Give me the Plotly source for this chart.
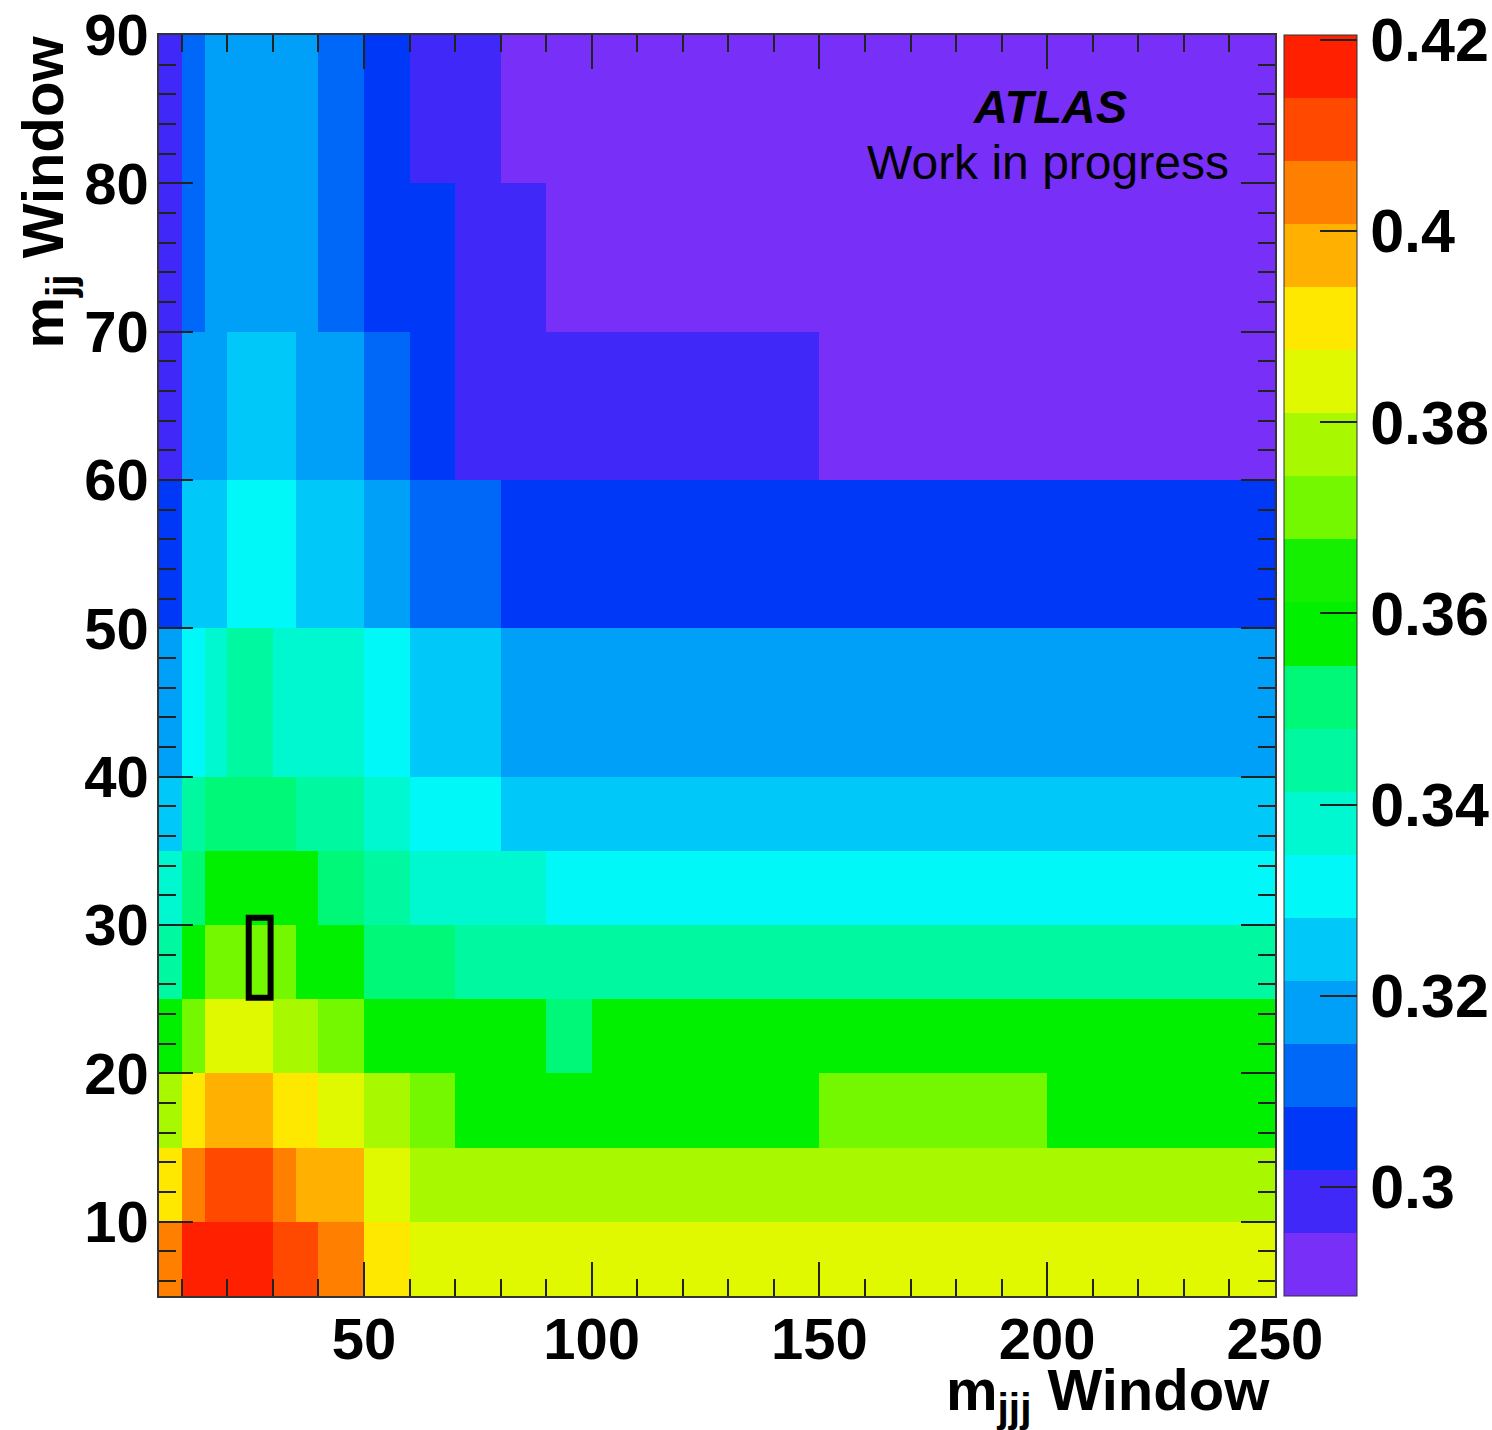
import plotly.graph_objects as go

# ---- data ----
x_edges = [5, 10, 15, 20, 25, 30, 35, 40, 45, 50, 60, 70, 80, 90, 100, 150, 200, 250]
y_edges = [5, 10, 15, 20, 25, 30, 35, 40, 50, 60, 70, 80, 90]

row_05_10 = [0.404, 0.417, 0.417, 0.417, 0.417, 0.411, 0.411, 0.404, 0.404, 0.391, 0.384, 0.384, 0.384, 0.384, 0.384, 0.384, 0.384]
row_10_15 = [0.391, 0.404, 0.411, 0.411, 0.411, 0.404, 0.397, 0.397, 0.397, 0.384, 0.378, 0.378, 0.378, 0.378, 0.378, 0.378, 0.378]
row_15_20 = [0.378, 0.391, 0.397, 0.397, 0.397, 0.391, 0.391, 0.384, 0.384, 0.378, 0.371, 0.358, 0.358, 0.358, 0.358, 0.371, 0.358]
row_20_25 = [0.358, 0.371, 0.384, 0.384, 0.384, 0.378, 0.378, 0.371, 0.371, 0.358, 0.358, 0.358, 0.358, 0.351, 0.358, 0.358, 0.358]
row_25_30 = [0.345, 0.358, 0.371, 0.371, 0.371, 0.371, 0.358, 0.358, 0.358, 0.351, 0.351, 0.345, 0.345, 0.345, 0.345, 0.345, 0.345]
row_30_35 = [0.338, 0.351, 0.358, 0.358, 0.358, 0.358, 0.358, 0.351, 0.351, 0.345, 0.338, 0.338, 0.338, 0.331, 0.331, 0.331, 0.331]
row_35_40 = [0.325, 0.345, 0.351, 0.351, 0.351, 0.351, 0.345, 0.345, 0.345, 0.338, 0.331, 0.331, 0.325, 0.325, 0.325, 0.325, 0.325]
row_40_50 = [0.318, 0.331, 0.338, 0.345, 0.345, 0.338, 0.338, 0.338, 0.338, 0.331, 0.325, 0.325, 0.318, 0.318, 0.318, 0.318, 0.318]
row_50_60 = [0.305, 0.325, 0.325, 0.331, 0.331, 0.331, 0.325, 0.325, 0.325, 0.318, 0.312, 0.312, 0.305, 0.305, 0.305, 0.305, 0.305]
row_60_70 = [0.299, 0.318, 0.318, 0.325, 0.325, 0.325, 0.318, 0.318, 0.318, 0.312, 0.305, 0.299, 0.299, 0.299, 0.299, 0.292, 0.292]
row_70_80 = [0.299, 0.312, 0.318, 0.318, 0.318, 0.318, 0.318, 0.312, 0.312, 0.305, 0.305, 0.299, 0.299, 0.292, 0.292, 0.292, 0.292]
row_80_90 = [0.299, 0.312, 0.318, 0.318, 0.318, 0.318, 0.318, 0.312, 0.312, 0.305, 0.299, 0.299, 0.292, 0.292, 0.292, 0.292, 0.292]

z_min, z_max = 0.2886, 0.4205
cbar_ticks = [0.3, 0.32, 0.34, 0.36, 0.38, 0.4, 0.42]
cbar_labels = ["0.3", "0.32", "0.34", "0.36", "0.38", "0.4", "0.42"]
best_box = dict(x0=24.7, x1=29.5, y0=25.1, y1=30.5)

# ---- style ----
band_colors = ["#7830F8", "#4028F8", "#0038F8", "#0068F8", "#00A0F8",
               "#00C8F8", "#00F8F8", "#00F8D0", "#00F8A0", "#00F878",
               "#00F000", "#14F000", "#74F800", "#A8F800", "#E0F800",
               "#FFE800", "#FFB000", "#FF8000", "#FF4800", "#FF2000"]
n = len(band_colors)
colorscale = []
for i, c in enumerate(band_colors):
    colorscale.append([i / n, c])
    colorscale.append([(i + 1) / n, c])

z = [row_05_10, row_10_15, row_15_20, row_20_25, row_25_30, row_30_35,
     row_35_40, row_40_50, row_50_60, row_60_70, row_70_80, row_80_90]

FONT = "Liberation Sans"
W, H = 1492, 1430
L, R, T, B = 159, 217, 35, 134
pw, ph = W - L - R, H - T - B

def px_x(p):
    return (p - L) / pw

def px_y(p):
    return 1 - (p - T) / ph

fig = go.Figure(go.Heatmap(
    x=x_edges, y=y_edges, z=z,
    zmin=z_min, zmax=z_max, colorscale=colorscale,
    colorbar=dict(
        x=px_x(1284), xanchor="left", xpad=0, ypad=0,
        y=0.5, yanchor="middle", len=1, lenmode="fraction",
        thickness=73, outlinewidth=1, outlinecolor="#333",
        tickvals=cbar_ticks, ticktext=cbar_labels,
        ticks="inside", ticklen=37, tickwidth=2, tickcolor="#222",
        tickfont=dict(family=FONT, size=61, color="black", weight="bold"),
    ),
    hoverinfo="skip",
))

fig.add_shape(type="rect", xref="x", yref="y", line=dict(color="black", width=6),
              fillcolor="rgba(0,0,0,0)", **best_box)

axis_common = dict(
    showgrid=False, zeroline=False, showline=True, linecolor="#333", linewidth=1.5,
    mirror="allticks", ticks="inside", tickwidth=2, tickcolor="#222",
    tickfont=dict(family=FONT, size=58, color="black", weight="bold"),
)
fig.update_xaxes(range=[5, 250], tick0=0, dtick=50, ticklen=34, ticklabelstandoff=-8,
                 minor=dict(ticks="inside", dtick=10, tick0=0, ticklen=17, tickwidth=2, tickcolor="#222"),
                 **axis_common)
fig.update_yaxes(range=[5, 90], tick0=0, dtick=10, ticklen=34, ticklabelstandoff=-3,
                 minor=dict(ticks="inside", dtick=2, tick0=0, ticklen=17, tickwidth=2, tickcolor="#222"),
                 **axis_common)

annos = [
    dict(text="m<sub>jjj</sub> Window", x=px_x(1272), y=px_y(1355), xanchor="right", yanchor="top",
         font=dict(family=FONT, size=58, color="black", weight="bold")),
    dict(text="m<sub>jj</sub> Window", x=px_x(46), y=px_y(34), xanchor="center", yanchor="top",
         textangle=-90, font=dict(family=FONT, size=58, color="black", weight="bold")),
    dict(text="<b><i>ATLAS</i></b>", x=px_x(1050), y=px_y(106), xanchor="center", yanchor="middle",
         font=dict(family=FONT, size=47, color="black")),
    dict(text="Work in progress", x=px_x(1048), y=px_y(163), xanchor="center", yanchor="middle",
         font=dict(family=FONT, size=48, color="black")),
]
for a in annos:
    fig.add_annotation(xref="paper", yref="paper", showarrow=False, **a)

fig.update_layout(width=W, height=H, margin=dict(l=L, r=R, t=T, b=B, autoexpand=False),
                  paper_bgcolor="white", plot_bgcolor="white", showlegend=False)

fig.write_html("out.html", config={"displayModeBar": False},
               post_script="document.body.style.margin='0px';")
